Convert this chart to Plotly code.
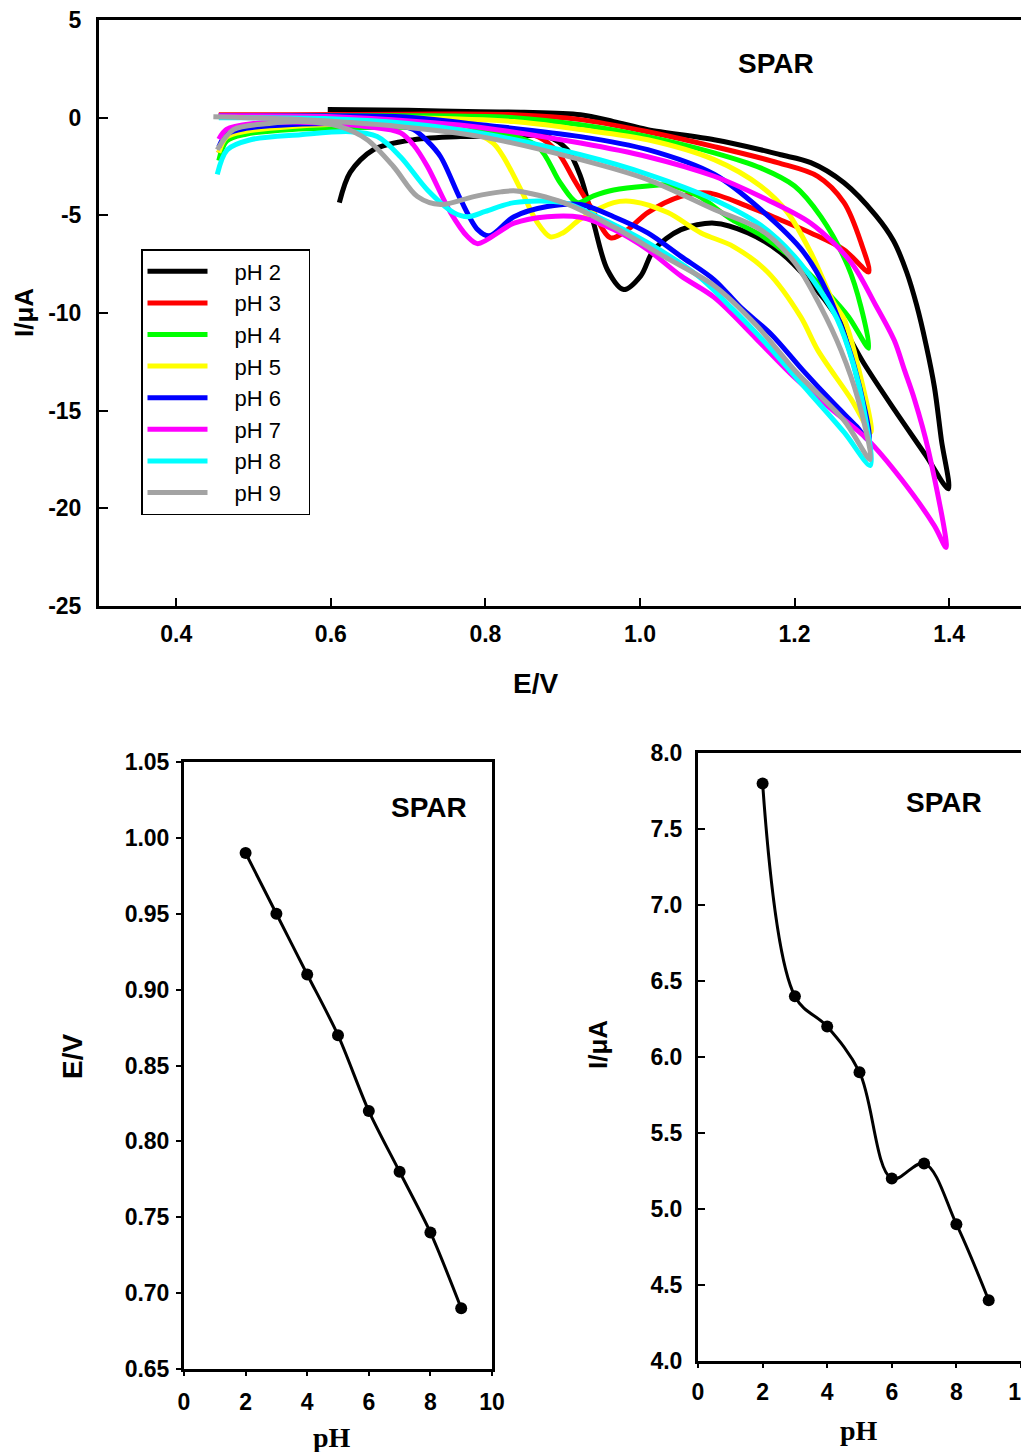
import plotly.graph_objects as go

W, H = 1021, 1452

# ---------------- Cyclic voltammograms (E/V, I/uA), forward scan then reverse scan
ph_labels = ["pH 2", "pH 3", "pH 4", "pH 5", "pH 6", "pH 7", "pH 8", "pH 9"]
ph_colors = ["#000000", "#FF0000", "#00FF00", "#FFFF00", "#0000FF", "#FF00FF", "#00FFFF", "#A3A3A3"]

ph2_E = [0.611, 0.625, 0.655, 0.707, 0.768, 0.83, 0.88, 0.906, 0.923, 0.94, 0.958, 0.979, 1.001, 1.018, 1.053, 1.096, 1.14, 1.182, 1.22, 1.255, 1.29, 1.33, 1.37, 1.399,
         1.39, 1.381, 1.37, 1.358, 1.345, 1.328, 1.305, 1.264, 1.221, 1.182, 1.156, 1.096, 1.01, 0.966, 0.923, 0.85, 0.794, 0.7, 0.596]
ph2_I = [-4.35, -2.8, -1.64, -1.13, -0.97, -0.95, -0.97, -1.64, -3.0, -5.4, -7.8, -8.8, -8.1, -6.76, -5.73, -5.4, -5.9, -6.9, -8.4, -10.2, -12.6, -15.0, -17.3, -19.0,
         -16.5, -13.8, -11.6, -9.6, -7.9, -6.3, -5.0, -3.33, -2.3, -1.9, -1.64, -1.13, -0.61, -0.2, 0.15, 0.28, 0.3, 0.38, 0.42]

ph3_E = [0.455, 0.465, 0.49, 0.55, 0.65, 0.75, 0.83, 0.868, 0.894, 0.915, 0.936, 0.962, 0.985, 1.01, 1.053, 1.088, 1.14, 1.18, 1.221, 1.264, 1.296,
         1.286, 1.264, 1.23, 1.178, 1.096, 1.01, 0.923, 0.837, 0.7, 0.55, 0.455]
ph3_I = [-1.8, -1.0, -0.65, -0.45, -0.35, -0.45, -0.7, -0.97, -1.8, -3.2, -4.55, -6.15, -5.7, -4.86, -4.03, -3.85, -4.55, -5.2, -5.9, -6.76, -7.9,
         -6.4, -4.35, -3.0, -2.3, -1.48, -0.72, -0.1, 0.15, 0.18, 0.15, 0.15]

ph4_E = [0.455, 0.465, 0.49, 0.55, 0.65, 0.75, 0.82, 0.868, 0.897, 0.919, 0.94, 0.966, 1.01, 1.036, 1.075, 1.118, 1.16, 1.2, 1.243, 1.27, 1.296,
         1.286, 1.269, 1.234, 1.2, 1.156, 1.096, 1.01, 0.923, 0.837, 0.7, 0.55, 0.455]
ph4_I = [-2.2, -1.2, -0.85, -0.6, -0.5, -0.55, -0.8, -1.48, -3.35, -4.35, -4.0, -3.7, -3.5, -3.45, -4.0, -5.2, -6.1, -7.3, -8.97, -10.2, -11.8,
         -9.7, -7.6, -5.07, -3.5, -2.57, -1.8, -0.97, -0.36, 0.0, 0.1, 0.1, 0.1]

ph5_E = [0.455, 0.465, 0.49, 0.55, 0.65, 0.72, 0.77, 0.81, 0.846, 0.866, 0.884, 0.9, 0.923, 0.966, 0.992, 1.036, 1.079, 1.121, 1.165, 1.208, 1.23, 1.273, 1.299,
         1.282, 1.264, 1.251, 1.221, 1.191, 1.156, 1.096, 1.01, 0.923, 0.837, 0.7, 0.55, 0.455]
ph5_I = [-1.8, -1.0, -0.7, -0.45, -0.3, -0.35, -0.6, -1.3, -3.7, -5.3, -6.1, -5.9, -5.2, -4.35, -4.3, -4.86, -5.9, -6.6, -7.9, -10.2, -11.9, -14.4, -16.1,
         -12.7, -10.3, -9.5, -6.9, -4.86, -3.5, -2.15, -1.13, -0.61, -0.2, 0.0, 0.05, 0.05]

ph6_E = [0.455, 0.465, 0.49, 0.55, 0.62, 0.68, 0.707, 0.725, 0.742, 0.768, 0.79, 0.805, 0.837, 0.88, 0.923, 0.966, 1.01, 1.053, 1.096, 1.13, 1.17, 1.21, 1.25, 1.28, 1.296,
         1.277, 1.243, 1.212, 1.156, 1.096, 1.01, 0.923, 0.794, 0.69, 0.55, 0.455]
ph6_I = [-1.5, -0.85, -0.55, -0.35, -0.3, -0.35, -0.61, -1.2, -2.0, -4.2, -5.73, -6.05, -5.07, -4.55, -4.45, -5.07, -5.9, -7.1, -8.3, -9.7, -11.1, -12.9, -14.6, -15.8, -16.5,
         -12.7, -9.0, -6.9, -4.7, -2.9, -1.64, -0.97, -0.36, 0.05, 0.1, 0.1]

ph7_E = [0.455, 0.465, 0.5, 0.55, 0.6, 0.647, 0.69, 0.707, 0.725, 0.755, 0.777, 0.79, 0.837, 0.88, 0.923, 0.966, 1.01, 1.053, 1.096, 1.15, 1.2, 1.25, 1.295, 1.338, 1.381, 1.396,
         1.373, 1.355, 1.342, 1.329, 1.305, 1.273, 1.221, 1.156, 1.096, 1.01, 0.923, 0.794, 0.733, 0.603, 0.455]
ph7_I = [-1.1, -0.6, -0.3, -0.22, -0.3, -0.46, -0.77, -1.4, -2.5, -4.86, -6.1, -6.45, -5.4, -5.07, -5.1, -5.73, -6.76, -8.1, -9.2, -11.3, -13.3, -15.0, -16.5, -18.5, -20.9, -22.0,
         -17.0, -14.4, -12.9, -11.4, -9.6, -7.4, -5.4, -4.04, -3.0, -2.0, -1.3, -0.5, -0.26, 0.05, 0.1]

ph8_E = [0.453, 0.466, 0.496, 0.561, 0.625, 0.66, 0.69, 0.725, 0.759, 0.777, 0.8, 0.837, 0.901, 0.945, 1.01, 1.075, 1.12, 1.164, 1.204, 1.264, 1.298,
         1.29, 1.275, 1.255, 1.234, 1.2, 1.156, 1.096, 1.01, 0.923, 0.794, 0.7, 0.6, 0.455]
ph8_I = [-2.9, -1.64, -1.13, -0.87, -0.72, -0.97, -2.0, -3.7, -4.86, -5.07, -4.8, -4.35, -4.35, -5.07, -6.4, -8.1, -9.8, -11.6, -13.4, -16.1, -17.8,
         -15.0, -12.5, -10.3, -8.9, -7.1, -5.5, -4.2, -2.9, -1.9, -0.8, -0.3, -0.05, 0.0]

ph9_E = [0.453, 0.474, 0.52, 0.561, 0.612, 0.647, 0.681, 0.712, 0.742, 0.785, 0.82, 0.84, 0.901, 0.966, 1.031, 1.096, 1.15, 1.204, 1.264, 1.298,
         1.282, 1.26, 1.234, 1.2, 1.156, 1.096, 1.01, 0.923, 0.794, 0.69, 0.56, 0.448]
ph9_I = [-1.64, -0.61, -0.3, -0.2, -0.46, -1.13, -2.5, -4.04, -4.45, -4.04, -3.8, -3.75, -4.35, -5.6, -7.1, -8.6, -10.6, -13.1, -15.5, -17.5,
         -14.4, -11.9, -9.7, -7.4, -5.73, -4.7, -3.17, -2.15, -0.97, -0.46, -0.1, 0.05]

cv_E = [ph2_E, ph3_E, ph4_E, ph5_E, ph6_E, ph7_E, ph8_E, ph9_E]
cv_I = [ph2_I, ph3_I, ph4_I, ph5_I, ph6_I, ph7_I, ph8_I, ph9_I]

# tick labels of the voltammogram current axis
cv_I_ticks = [-25, -20, -15, -10, -5, 0, 5]
cv_I_ticktext = ["-25", "-20", "-15", "-10", "-5", "0", "5"]

# ---------------- Peak potential and peak current vs pH
pH_values = [2, 3, 4, 5, 6, 7, 8, 9]
peak_E = [0.99, 0.95, 0.91, 0.87, 0.82, 0.78, 0.74, 0.69]
peak_I = [7.8, 6.4, 6.2, 5.9, 5.2, 5.3, 4.9, 4.4]

SANS = "Liberation Sans, Arial, sans-serif"
SERIF = "Liberation Serif, Times New Roman, serif"
PAD = "\u2002"


def px_x(p):
    return p / W


def px_y(p):
    return 1 - p / H


fig = go.Figure()

for E, I, name, col in zip(cv_E, cv_I, ph_labels, ph_colors):
    fig.add_trace(go.Scatter(x=E, y=I, mode="lines", name=PAD * 2 + name + PAD * 2,
                             line=dict(color=col, width=5, shape="spline", smoothing=0.9),
                             xaxis="x", yaxis="y"))

fig.add_trace(go.Scatter(x=pH_values, y=peak_E, mode="lines+markers", showlegend=False,
                         line=dict(color="black", width=3, shape="spline", smoothing=0.8),
                         marker=dict(color="black", size=12),
                         xaxis="x2", yaxis="y2"))
fig.add_trace(go.Scatter(x=pH_values, y=peak_I, mode="lines+markers", showlegend=False,
                         line=dict(color="black", width=3, shape="spline", smoothing=1.0),
                         marker=dict(color="black", size=12),
                         xaxis="x3", yaxis="y3"))

tickfont = dict(family=SANS, size=23, color="black", weight="bold")
common = dict(showgrid=False, zeroline=False, showline=True, linecolor="black", linewidth=3,
              tickcolor="black", tickwidth=1.5, tickfont=tickfont, ticklabeloverflow="allow",
              automargin=False)

fig.update_layout(
    template="none",
    width=W, height=H,
    margin=dict(l=0, r=0, t=0, b=0, pad=0),
    paper_bgcolor="white", plot_bgcolor="white",
    xaxis=dict(domain=[px_x(99), 1.0], range=[0.3, 1.493], anchor="y",
               tickvals=[0.4, 0.6, 0.8, 1.0, 1.2, 1.4], tickformat=".1f",
               ticks="inside", ticklen=8, mirror=True, ticklabelstandoff=5, **common),
    yaxis=dict(domain=[px_y(606), px_y(20)], range=[-25, 5], anchor="x",
               tickvals=cv_I_ticks, ticktext=cv_I_ticktext,
               ticks="inside", ticklen=9, mirror=False, ticklabelstandoff=10, **common),
    xaxis2=dict(domain=[px_x(184), px_x(492)], range=[0, 10], anchor="y2",
                tickvals=[0, 2, 4, 6, 8, 10],
                ticks="outside", ticklen=4, mirror=True, ticklabelstandoff=6, **common),
    yaxis2=dict(domain=[px_y(1369), px_y(762)], range=[0.65, 1.05], anchor="x2",
                tickvals=[0.65, 0.70, 0.75, 0.80, 0.85, 0.90, 0.95, 1.00, 1.05], tickformat=".2f",
                ticks="outside", ticklen=5, mirror=True, ticklabelstandoff=2, **common),
    xaxis3=dict(domain=[px_x(698), 1.0], range=[0, 10], anchor="y3",
                tickvals=[0, 2, 4, 6, 8, 10],
                ticks="outside", ticklen=4, mirror=True, ticklabelstandoff=4, **common),
    yaxis3=dict(domain=[px_y(1361), px_y(753)], range=[4, 8], anchor="x3",
                tickvals=[4.0, 4.5, 5.0, 5.5, 6.0, 6.5, 7.0, 7.5, 8.0], tickformat=".1f",
                ticks="inside", ticklen=7, mirror=False, ticklabelstandoff=8, **common),
    legend=dict(x=px_x(141), y=px_y(249), xanchor="left", yanchor="top",
                bgcolor="white", bordercolor="black", borderwidth=1.5,
                font=dict(family=SANS, size=22, color="black"),
                itemwidth=60, tracegroupgap=0),
)

ann = []


def add_text(text, x, y, size, family=SANS, angle=0):
    ann.append(dict(text=text, x=px_x(x), y=px_y(y), xref="paper", yref="paper",
                    showarrow=False, xanchor="center", yanchor="middle", textangle=angle,
                    font=dict(family=family, size=size, color="black", weight="bold")))


add_text("SPAR", 776, 63, 28)
add_text("SPAR", 429, 808, 28)
add_text("SPAR", 944, 802, 28)
add_text("E/V", 535, 683, 28)
add_text("I/μA", 24, 313, 26, angle=-90)
add_text("E/V", 72, 1057, 28, angle=-90)
add_text("I/μA", 598, 1045, 26, angle=-90)
add_text("pH", 332, 1437, 28, family=SERIF)
add_text("pH", 859, 1430, 28, family=SERIF)
fig.update_layout(annotations=ann)

fig.write_html("out.html", config={"displayModeBar": False},
               post_script="document.body.style.margin='0px';document.body.style.overflow='hidden';")
